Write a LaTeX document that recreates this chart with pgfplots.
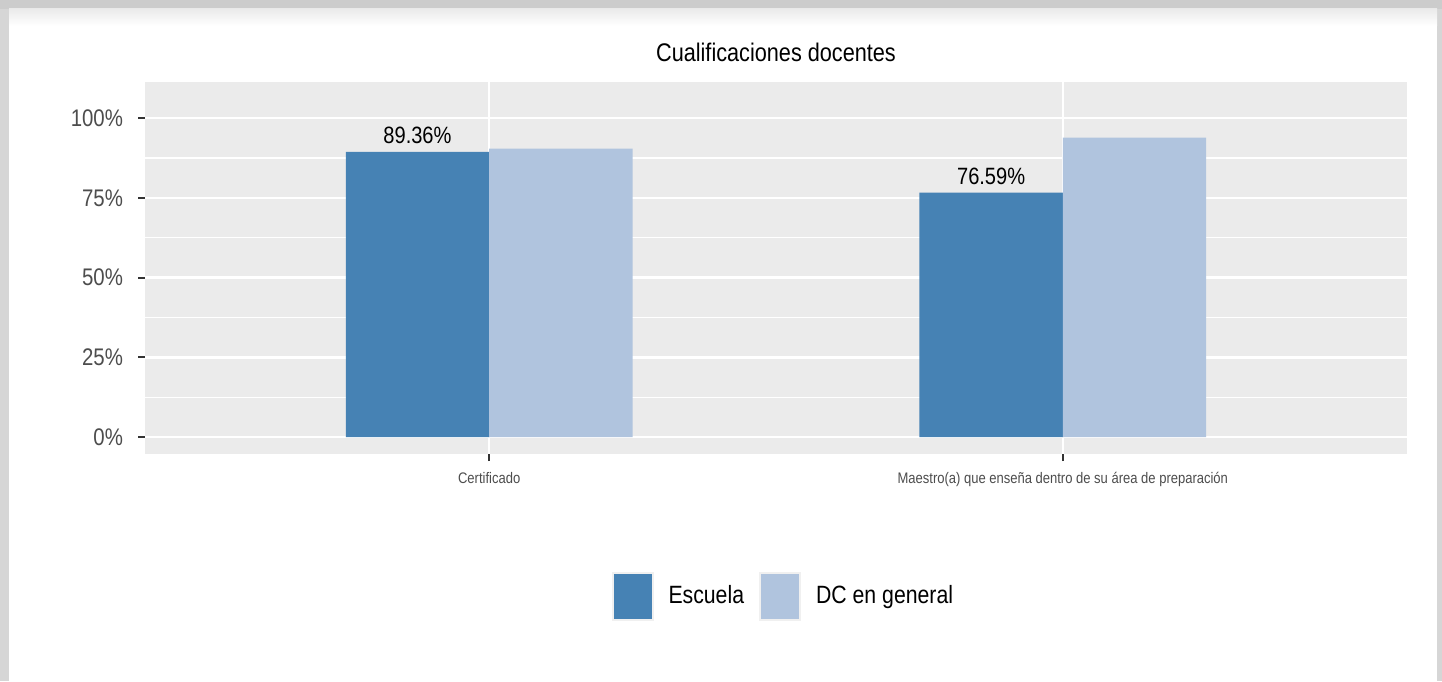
\documentclass[border=0pt]{standalone}
\usepackage{fontspec}
\setmainfont[FakeStretch=0.85]{Liberation Sans}
\usepackage{pgfplots}
\pgfplotsset{compat=1.18}

\definecolor{steelblue}{HTML}{4682B4}
\definecolor{lsteelblue}{HTML}{B0C4DE}
\definecolor{panelgray}{HTML}{EBEBEB}
\definecolor{gray30}{HTML}{4D4D4D}
\definecolor{gray20}{HTML}{333333}

\pgfplotsset{
  sqkey/.style={legend image code/.code={
    \draw[##1,draw=black!6,line width=1pt] (0pt,-11.75pt) rectangle (20pt,11.75pt);}},
}

\begin{document}
\begin{tikzpicture}
% page frame (1px = 0.5pt)
\useasboundingbox (0,0) rectangle (721pt,340.5pt);
\fill[black!16] (0,0) rectangle (721pt,340.5pt);
\fill[black!20] (0,336pt) rectangle (721pt,340.5pt);
\fill[white] (4.5pt,0) rectangle (718.5pt,336pt);
\shade[top color=black!8,bottom color=white] (4.5pt,327.5pt) rectangle (718.5pt,336pt);

\begin{axis}[
  at={(72.5pt,113.5pt)}, anchor=south west,
  scale only axis, width=631pt, height=186pt,
  ybar, bar width=0.25,
  xmin=0.4, xmax=2.6, ymin=-5.3, ymax=111.3,
  xtick={1,2},
  xticklabels={Certificado, Maestro(a) que enseña dentro de su área de preparación},
  ytick={0,25,50,75,100},
  minor ytick={12.5,37.5,62.5,87.5},
  yticklabel={\pgfmathprintnumber{\tick}\%},
  /pgf/number format/assume math mode=true,
  axis background/.style={fill=panelgray},
  axis line style={draw=none},
  tick pos=left, tick align=outside,
  major tick length=3.5pt, minor tick length=0pt,
  tick style={color=gray20, line width=1pt},
  xmajorgrids, ymajorgrids, yminorgrids,
  major grid style={white, line width=1.2pt},
  minor grid style={white, line width=0.6pt},
  yticklabel style={font=\fontsize{12}{14}\selectfont, text=gray30, xshift=-4pt},
  xticklabel style={font=\fontsize{7.65}{9}\selectfont, text=gray30, yshift=-2pt},
  title={Cualificaciones docentes},
  title style={at={(0.5,1.048)}, anchor=center, font=\fontsize{12.75}{15}\selectfont},
  legend style={at={(0.505,-0.382)}, anchor=center, draw=none, fill=none,
    legend columns=-1, font=\fontsize{12.5}{15}\selectfont,
    nodes={inner xsep=0pt},
    /tikz/every odd column/.append style={column sep=7.5pt},
    /tikz/every even column/.append style={column sep=7.5pt}},
]
\addplot[fill=steelblue, draw=none, bar shift=-0.125, sqkey,
  nodes near coords={\pgfmathprintnumber[fixed,precision=2,fixed zerofill]{\pgfplotspointmeta}\%},
  every node near coord/.append style={font=\fontsize{11.8}{14}\selectfont, text=black, anchor=south, yshift=0.5pt}]
  coordinates {(1,89.36) (2,76.59)};
\addplot[fill=lsteelblue, draw=none, bar shift=0.125, sqkey]
  coordinates {(1,90.45) (2,93.9)};
\legend{Escuela, DC en general}
\end{axis}
\end{tikzpicture}
\end{document}
